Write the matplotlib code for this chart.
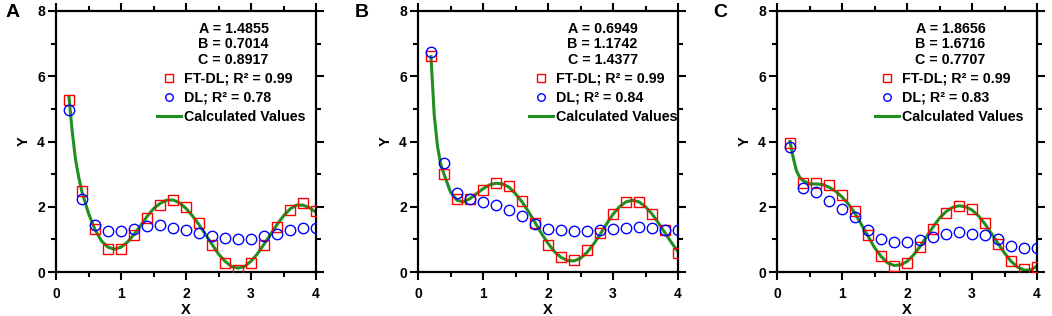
import matplotlib.pyplot as plt
import numpy as np

plt.rcParams['font.family'] = ['Liberation Sans', 'DejaVu Sans']
plt.rcParams['font.weight'] = 'bold'

# sample points shared by the three panels
x_pts = [0.2, 0.4, 0.6, 0.8, 1.0, 1.2, 1.4, 1.6, 1.8, 2.0,
         2.2, 2.4, 2.6, 2.8, 3.0, 3.2, 3.4, 3.6, 3.8, 4.0]

# x positions of the calculated (green) curve
x_calc = [0.2, 0.25, 0.3, 0.35, 0.4, 0.5, 0.6, 0.7, 0.8, 0.9, 1.0,
          1.1, 1.2, 1.3, 1.4, 1.5, 1.6, 1.7, 1.8, 1.9, 2.0,
          2.1, 2.2, 2.3, 2.4, 2.5, 2.6, 2.7, 2.8, 2.9, 3.0,
          3.1, 3.2, 3.3, 3.4, 3.5, 3.6, 3.7, 3.8, 3.9, 4.0]

# panel A
ftdl_a = [5.26, 2.47, 1.33, 0.72, 0.72, 1.12, 1.66, 2.06, 2.20, 1.99,
          1.50, 0.84, 0.29, 0.07, 0.29, 0.82, 1.38, 1.89, 2.11, 1.86]
dl_a = [4.98, 2.23, 1.43, 1.25, 1.26, 1.31, 1.41, 1.43, 1.35, 1.30,
        1.21, 1.11, 1.04, 1.00, 1.02, 1.11, 1.15, 1.30, 1.34, 1.35]
calc_a = [5.35, 4.30, 3.45, 2.90, 2.45, 1.80, 1.30, 0.95, 0.76, 0.70, 0.76,
          0.92, 1.15, 1.42, 1.70, 1.94, 2.10, 2.20, 2.21, 2.12, 1.95,
          1.72, 1.45, 1.15, 0.85, 0.55, 0.33, 0.17, 0.12, 0.17, 0.33,
          0.56, 0.85, 1.15, 1.45, 1.72, 1.93, 2.05, 2.05, 1.97, 1.83]

# panel B
ftdl_b = [6.61, 3.01, 2.25, 2.23, 2.52, 2.73, 2.63, 2.17, 1.50, 0.84,
          0.46, 0.36, 0.66, 1.21, 1.79, 2.15, 2.15, 1.79, 1.28, 0.58]
dl_b = [6.74, 3.35, 2.42, 2.25, 2.15, 2.05, 1.89, 1.72, 1.48, 1.31,
        1.30, 1.25, 1.26, 1.30, 1.33, 1.36, 1.38, 1.34, 1.30, 1.28]
calc_b = [6.60, 4.80, 3.85, 3.30, 3.00, 2.45, 2.20, 2.15, 2.25, 2.40, 2.55,
          2.67, 2.72, 2.70, 2.60, 2.40, 2.15, 1.85, 1.52, 1.18, 0.88,
          0.62, 0.45, 0.35, 0.34, 0.42, 0.60, 0.85, 1.15, 1.47, 1.77,
          2.00, 2.15, 2.20, 2.15, 2.00, 1.78, 1.50, 1.20, 0.90, 0.62]

# panel C
ftdl_c = [3.95, 2.73, 2.74, 2.66, 2.37, 1.86, 1.12, 0.48, 0.18, 0.29,
          0.77, 1.33, 1.82, 2.02, 1.94, 1.50, 0.87, 0.33, 0.08, 0.15]
dl_c = [3.83, 2.57, 2.45, 2.17, 1.94, 1.69, 1.30, 1.02, 0.92, 0.92,
        0.99, 1.07, 1.17, 1.22, 1.17, 1.12, 1.02, 0.80, 0.74, 0.75]
calc_c = [4.00, 3.50, 3.10, 2.90, 2.80, 2.70, 2.70, 2.68, 2.60, 2.48, 2.30,
          2.08, 1.80, 1.45, 1.10, 0.75, 0.48, 0.28, 0.20, 0.22, 0.32,
          0.52, 0.78, 1.08, 1.38, 1.65, 1.85, 1.98, 2.03, 2.00, 1.90,
          1.72, 1.47, 1.18, 0.88, 0.58, 0.33, 0.15, 0.06, 0.06, 0.18]

panel_letters = ['A', 'B', 'C']
param_a = ['1.4855', '0.6949', '1.8656']
param_b = ['0.7014', '1.1742', '1.6716']
param_c = ['0.8917', '1.4377', '0.7707']
r2_ftdl = ['0.99', '0.99', '0.99']
r2_dl = ['0.78', '0.84', '0.83']

GREEN = '#1f8f1f'
TXT = 10.3


def plot_panel(ax, ftdl, dl, calc, idx, text_x, leg_x, letter_x):
    '''Draw one panel: FT-DL squares, DL circles and the calculated curve.'''
    ax.plot(x_calc, calc, color=GREEN, lw=2.2, zorder=2,
            label='Calculated Values')
    ax.plot(x_pts, ftdl, ls='none', marker='s', ms=7.5, mfc='none',
            mec='#ff0000', mew=1.0, zorder=3,
            label='FT-DL; R\u00b2 = ' + r2_ftdl[idx])
    ax.plot(x_pts, dl, ls='none', marker='o', ms=7.5, mfc='none',
            mec='#0000ff', mew=1.0, zorder=4,
            label='DL; R\u00b2 = ' + r2_dl[idx])

    ax.set_xlim(0, 4)
    ax.set_ylim(0, 8)
    ax.set_xticks([0, 1, 2, 3, 4])
    ax.set_yticks([0, 2, 4, 6, 8])
    ax.set_xticks([0.5, 1.5, 2.5, 3.5], minor=True)
    ax.set_yticks([1, 3, 5, 7], minor=True)
    ax.tick_params(which='both', direction='out', top=True, right=True,
                   width=1.5, labelsize=10)
    ax.tick_params(which='major', length=6)
    ax.tick_params(which='minor', length=3.5)
    ax.tick_params(axis='x', pad=5)
    ax.tick_params(axis='y', pad=2)
    for s in ax.spines.values():
        s.set_linewidth(1.6)

    ax.set_xlabel('X', fontsize=10.5, fontweight='bold')
    ax.set_ylabel('Y', fontsize=10.5, fontweight='bold')
    ax.xaxis.set_label_coords(0.5, -0.12)
    ax.yaxis.set_label_coords(-0.097, 0.5)

    for yy, lab, val in zip([0.930, 0.872, 0.812], ['A', 'B', 'C'],
                            [param_a[idx], param_b[idx], param_c[idx]]):
        ax.text(text_x, yy, lab + ' = ' + val, transform=ax.transAxes,
                ha='center', va='center', fontsize=TXT, fontweight='bold')

    handles, labels = ax.get_legend_handles_labels()
    order = [1, 2, 0]
    ax.legend([handles[i] for i in order], [labels[i] for i in order],
              loc='upper left', bbox_to_anchor=(leg_x, 0.767),
              frameon=False, borderpad=0, borderaxespad=0,
              handlelength=1.7, handletextpad=0.2, labelspacing=0.35,
              markerscale=0.72, prop={'size': TXT, 'weight': 'bold'})

    ax.text(letter_x, 0.994, panel_letters[idx], transform=ax.transAxes,
            ha='left', va='center', fontsize=14, fontweight='bold')


fig = plt.figure(figsize=(10.52, 3.16), dpi=100)
lefts = [56, 418, 777]
for i, (ftdl, dl, calc) in enumerate([(ftdl_a, dl_a, calc_a),
                                      (ftdl_b, dl_b, calc_b),
                                      (ftdl_c, dl_c, calc_c)]):
    ax = fig.add_axes([lefts[i] / 1052, 44 / 316, 260 / 1052, 261 / 316])
    plot_panel(ax, ftdl, dl, calc, i,
               text_x=[0.683, 0.710, 0.667][i],
               leg_x=[0.388, 0.425, 0.375][i],
               letter_x=[-0.196, -0.243, -0.245][i])

plt.savefig('out.png', dpi=100)
